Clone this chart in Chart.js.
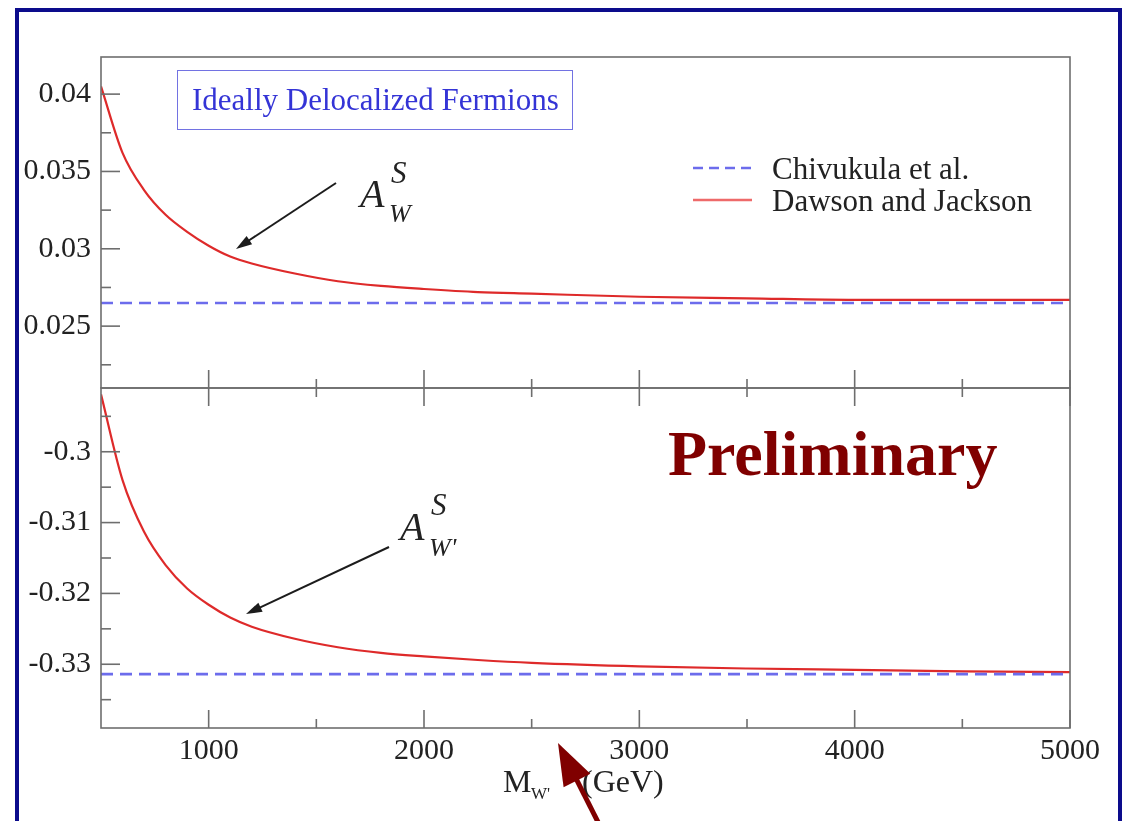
<!DOCTYPE html>
<html>
<head>
<meta charset="utf-8">
<script src="https://cdn.jsdelivr.net/npm/chart.js@4/dist/chart.umd.min.js"></script>
<style>
  body { margin: 0; background: #fff; width: 1126px; height: 821px; overflow: hidden; position: relative;
         font-family: "Liberation Serif", "DejaVu Serif", serif; }
  canvas { position: absolute; left: 0; top: 0; }
  #frame { position: absolute; left: 15px; top: 8px; width: 1107px; height: 860px;
           border: 4px solid #0c0c8c; box-sizing: border-box; }
  .txt { position: absolute; line-height: 1; white-space: nowrap; }
  #title-box { position: absolute; left: 177px; top: 70px; width: 396px; height: 60px;
               border: 1.5px solid #7272e2; box-sizing: border-box; }
  #overlay { position: absolute; left: 0; top: 0; }
</style>
</head>
<body>
<div id="frame"></div>
<canvas id="top-chart" width="1126" height="821"></canvas>
<canvas id="bottom-chart" width="1126" height="821"></canvas>

<div id="title-box"></div>
<div class="txt" style="left:192px;top:84px;font-size:31px;color:#3434d6">Ideally Delocalized Fermions</div>

<div class="txt" style="left:772px;top:153px;font-size:31px;color:#222">Chivukula et al.</div>
<div class="txt" style="left:772px;top:185px;font-size:31px;color:#222">Dawson and Jackson</div>

<div class="txt" style="left:360px;top:174px;font-size:40px;font-style:italic;color:#222">A</div>
<div class="txt" style="left:391px;top:157px;font-size:31px;font-style:italic;color:#222">S</div>
<div class="txt" style="left:389px;top:201px;font-size:26px;font-style:italic;color:#222">W</div>

<div class="txt" style="left:400px;top:507px;font-size:40px;font-style:italic;color:#222">A</div>
<div class="txt" style="left:431px;top:489px;font-size:31px;font-style:italic;color:#222">S</div>
<div class="txt" style="left:429px;top:535px;font-size:26px;font-style:italic;color:#222">W'</div>

<div class="txt" style="left:668px;top:422px;font-size:64px;font-weight:bold;color:#800000">Preliminary</div>

<div class="txt" style="left:503px;top:765px;font-size:32px;color:#222">M</div>
<div class="txt" style="left:531px;top:785px;font-size:17px;color:#222">W'</div>
<div class="txt" style="left:582px;top:765px;font-size:32px;color:#222">(GeV)</div>

<svg id="overlay" width="1126" height="821"></svg>

<script>
// W' mass (GeV) sampled along the Dawson and Jackson curves
const massGeV = [500, 600, 700, 800, 900, 1000, 1100, 1200, 1400, 1600, 1800, 2000, 2250, 2500, 3000, 3500, 4000, 4500, 5000];
const awDawson = [0.0405, 0.0362, 0.0338, 0.0322, 0.0311, 0.0302, 0.0295, 0.02905, 0.0284, 0.0279, 0.0276, 0.0274, 0.0272, 0.0271, 0.0269, 0.0268, 0.0267, 0.0267, 0.0267];
const awpDawson = [-0.2919, -0.3040, -0.3113, -0.3160, -0.3193, -0.3216, -0.3234, -0.3247, -0.3264, -0.3276, -0.3284, -0.3289, -0.3294, -0.3298, -0.3303, -0.3306, -0.3308, -0.3310, -0.3311];

// Chivukula et al. constant result
const chivukulaMass = [500, 5000];
const awChivukula = [0.0265, 0.0265];
const awpChivukula = [-0.3314, -0.3314];

// ticks
const xMajor = [1000, 2000, 3000, 4000, 5000];
const xMinor = [1500, 2500, 3500, 4500];
const topMajor = [0.025, 0.03, 0.035, 0.04];
const topLabels = ["0.025", "0.03", "0.035", "0.04"];
const topMinor = [0.0225, 0.0275, 0.0325, 0.0375];
const botMajor = [-0.33, -0.32, -0.31, -0.3];
const botLabels = ["-0.33", "-0.32", "-0.31", "-0.3"];
const botMinor = [-0.335, -0.325, -0.315, -0.305, -0.295];

const RED = "#de2a2a";
const BLUE = "#6c6cec";
const AXIS = "#6e6e6e";
const tickFont = { family: "'Liberation Serif', 'DejaVu Serif', serif", size: 30 };

const pts = (xs, ys) => xs.map((x, i) => ({ x, y: ys[i] }));

// frame box and inward tick marks like the original plot
const innerTicks = {
  id: "innerTicks",
  afterDraw(chart, args, opts) {
    const { ctx, chartArea: a, scales } = chart;
    const seg = (x1, y1, x2, y2) => { ctx.beginPath(); ctx.moveTo(x1, y1); ctx.lineTo(x2, y2); ctx.stroke(); };
    ctx.save();
    ctx.strokeStyle = AXIS;
    ctx.lineWidth = 1.6;
    ctx.strokeRect(a.left, a.top, a.right - a.left, a.bottom - a.top);
    opts.yMajor.forEach((v) => { const p = scales.y.getPixelForValue(v); seg(a.left, p, a.left + 19, p); });
    opts.yMinor.forEach((v) => { const p = scales.y.getPixelForValue(v); seg(a.left, p, a.left + 10, p); });
    const xt = (edge, dir) => {
      xMajor.forEach((v) => { const p = scales.x.getPixelForValue(v); seg(p, edge, p, edge + dir * 18); });
      xMinor.forEach((v) => { const p = scales.x.getPixelForValue(v); seg(p, edge, p, edge + dir * 9); });
    };
    if (opts.xTop) xt(a.top, 1);
    if (opts.xBottom) xt(a.bottom, -1);
    ctx.restore();
  },
};

const makeChart = (id, cfg) => new Chart(document.getElementById(id), {
  type: "line",
  data: {
    datasets: [
      { label: "Chivukula et al.", data: pts(chivukulaMass, cfg.flat), borderColor: BLUE, borderWidth: 2.6,
        borderDash: [12, 7], pointRadius: 0, fill: false },
      { label: "Dawson and Jackson", data: pts(massGeV, cfg.curve), borderColor: RED, borderWidth: 2.2,
        pointRadius: 0, cubicInterpolationMode: "monotone", fill: false },
    ],
  },
  options: {
    responsive: false,
    animation: false,
    devicePixelRatio: 1,
    layout: { padding: cfg.padding },
    plugins: {
      legend: { display: false },
      tooltip: { enabled: false },
      innerTicks: { yMajor: cfg.yMajor, yMinor: cfg.yMinor, xTop: cfg.xTop, xBottom: true },
    },
    scales: {
      x: {
        type: "linear", min: 500, max: 5000, display: cfg.showX,
        afterBuildTicks: (s) => { s.ticks = xMajor.map((value) => ({ value })); },
        afterFit: (s) => { s.height = cfg.showX ? 93 : 0; },
        grid: { display: false, drawTicks: false },
        border: { display: false },
        ticks: { color: "#222", font: tickFont, padding: 5, maxRotation: 0, autoSkip: false,
                 callback: (v) => String(v) },
      },
      y: {
        type: "linear", min: cfg.yMin, max: cfg.yMax,
        afterBuildTicks: (s) => { s.ticks = cfg.yMajor.map((value) => ({ value })); },
        afterFit: (s) => { s.width = 101; },
        grid: { display: false, drawTicks: false },
        border: { display: false },
        ticks: {
          color: "#222", font: tickFont, padding: 10, autoSkip: false,
          callback: (v) => cfg.yLabels[cfg.yMajor.indexOf(v)] ?? "",
        },
      },
    },
  },
  plugins: [innerTicks],
});

makeChart("top-chart", {
  curve: awDawson, flat: awChivukula, yMin: 0.021, yMax: 0.0424,
  yMajor: topMajor, yLabels: topLabels, yMinor: topMinor,
  showX: false, xTop: false,
  padding: { top: 57, left: 0, right: 56, bottom: 433 },
});

makeChart("bottom-chart", {
  curve: awpDawson, flat: awpChivukula, yMin: -0.339, yMax: -0.291,
  yMajor: botMajor, yLabels: botLabels, yMinor: botMinor,
  showX: true, xTop: true,
  padding: { top: 388, left: 0, right: 56, bottom: 0 },
});

// annotation arrows and legend samples
const svg = document.getElementById("overlay");
const NS = "http://www.w3.org/2000/svg";
const add = (tag, attrs) => {
  const el = document.createElementNS(NS, tag);
  Object.entries(attrs).forEach(([k, v]) => el.setAttribute(k, v));
  svg.appendChild(el);
};
const arrow = (x0, y0, x1, y1, color, width, headLen, headW) => {
  const dx = x1 - x0, dy = y1 - y0, len = Math.hypot(dx, dy);
  const ux = dx / len, uy = dy / len;
  const bx = x1 - ux * headLen, by = y1 - uy * headLen;
  add("line", { x1: x0, y1: y0, x2: bx + ux * 2, y2: by + uy * 2, stroke: color, "stroke-width": width });
  add("polygon", {
    points: `${x1},${y1} ${bx - uy * headW / 2},${by + ux * headW / 2} ${bx + uy * headW / 2},${by - ux * headW / 2}`,
    fill: color,
  });
};

add("line", { x1: 693, y1: 168, x2: 752, y2: 168, stroke: BLUE, "stroke-width": 2.6, "stroke-dasharray": "10 6" });
add("line", { x1: 693, y1: 200, x2: 752, y2: 200, stroke: "#ee6a6a", "stroke-width": 2.6 });

arrow(336, 183, 236, 249, "#1c1c1c", 2, 16, 10);
arrow(389, 547, 246, 614, "#1c1c1c", 2, 16, 10);
arrow(600, 826, 558, 743, "#800000", 5, 42, 30);
</script>
</body>
</html>
